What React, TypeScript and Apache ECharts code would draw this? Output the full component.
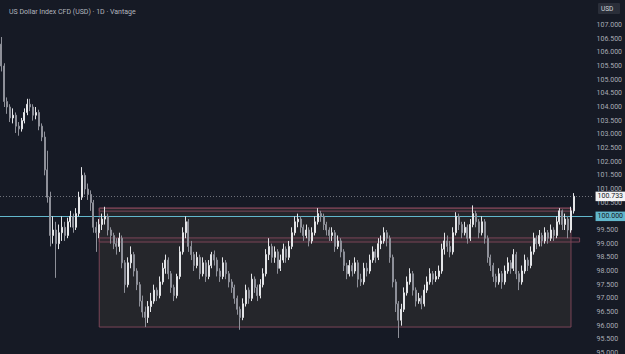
import React, { useEffect, useRef } from "react";
import * as echarts from "echarts";

const TITLE = "US Dollar Index CFD (USD) · 1D · Vantage";
const CURRENCY = "USD";

const opens = [
  106.3, 105.5, 104.2, 104.0, 103.6, 103.7, 103.3, 103.2, 103.5, 103.8,
  104.1, 104.0, 103.7, 103.8, 103.3, 102.9, 101.7, 100.7, 99.3, 99.5,
  99.0, 99.4, 99.6, 99.3, 99.8, 100.0, 99.6, 100.1, 100.7, 101.5,
  101.0, 100.8, 100.5, 99.6, 99.4, 99.7, 99.9, 100.0, 99.5, 99.3,
  99.0, 98.9, 99.2, 98.3, 97.5, 98.3, 98.6, 98.0, 97.5, 96.9,
  96.5, 96.3, 96.7, 96.9, 97.3, 97.1, 97.6, 98.1, 98.4, 97.9,
  97.4, 97.1, 97.8, 98.7, 99.4, 99.8, 98.9, 98.6, 98.2, 98.5,
  97.9, 98.3, 97.8, 98.2, 98.6, 98.4, 98.0, 97.8, 98.3, 97.9,
  97.6, 97.4, 97.0, 96.6, 96.3, 96.8, 97.3, 97.0, 97.7, 97.4,
  97.1, 97.5, 97.9, 98.6, 98.9, 98.5, 98.7, 98.1, 98.4, 98.8,
  98.5, 98.9, 99.4, 99.8, 99.9, 99.6, 99.3, 99.5, 99.1, 99.4,
  99.8, 100.1, 100.0, 99.7, 99.5, 99.3, 99.4, 98.9, 99.1, 98.7,
  98.2, 97.9, 98.2, 98.0, 98.3, 97.7, 97.6, 98.1, 98.0, 98.4,
  98.7, 98.5, 99.0, 99.1, 99.4, 99.2, 98.5, 97.6, 96.8, 96.2,
  96.6, 97.2, 97.6, 97.9, 97.3, 96.9, 97.0, 96.8, 97.3, 97.6,
  97.9, 97.7, 97.8, 98.0, 98.8, 99.1, 98.9, 98.7, 99.4, 100.0,
  99.7, 99.4, 99.6, 99.2, 99.7, 100.1, 99.8, 99.4, 99.8, 99.2,
  98.5, 98.2, 97.8, 97.6, 97.9, 97.6, 98.0, 98.3, 98.1, 98.6,
  97.9, 97.6, 98.0, 98.4, 98.2, 98.7, 99.2, 99.0, 99.3, 99.1,
  99.4, 99.2, 99.5, 99.3, 99.8, 100.2, 99.7, 99.9, 99.5, 100.2,
];

const closes = [
  105.5, 104.2, 104.0, 103.6, 103.7, 103.3, 103.2, 103.5, 103.8, 104.1,
  104.0, 103.7, 103.8, 103.3, 102.9, 101.7, 100.7, 99.3, 99.5, 99.0,
  99.4, 99.6, 99.3, 99.8, 100.0, 99.6, 100.1, 100.7, 101.5, 101.0,
  100.8, 100.5, 99.6, 99.4, 99.7, 99.9, 100.0, 99.5, 99.3, 99.0,
  98.9, 99.2, 98.3, 97.5, 98.3, 98.6, 98.0, 97.5, 96.9, 96.5,
  96.3, 96.7, 96.9, 97.3, 97.1, 97.6, 98.1, 98.4, 97.9, 97.4,
  97.1, 97.8, 98.7, 99.4, 99.8, 98.9, 98.6, 98.2, 98.5, 97.9,
  98.3, 97.8, 98.2, 98.6, 98.4, 98.0, 97.8, 98.3, 97.9, 97.6,
  97.4, 97.0, 96.6, 96.3, 96.8, 97.3, 97.0, 97.7, 97.4, 97.1,
  97.5, 97.9, 98.6, 98.9, 98.5, 98.7, 98.1, 98.4, 98.8, 98.5,
  98.9, 99.4, 99.8, 99.9, 99.6, 99.3, 99.5, 99.1, 99.4, 99.8,
  100.1, 100.0, 99.7, 99.5, 99.3, 99.4, 98.9, 99.1, 98.7, 98.2,
  97.9, 98.2, 98.0, 98.3, 97.7, 97.6, 98.1, 98.0, 98.4, 98.7,
  98.5, 99.0, 99.1, 99.4, 99.2, 98.5, 97.6, 96.8, 96.2, 96.6,
  97.2, 97.6, 97.9, 97.3, 96.9, 97.0, 96.8, 97.3, 97.6, 97.9,
  97.7, 97.8, 98.0, 98.8, 99.1, 98.9, 98.7, 99.4, 100.0, 99.7,
  99.4, 99.6, 99.2, 99.7, 100.1, 99.8, 99.4, 99.8, 99.2, 98.5,
  98.2, 97.8, 97.6, 97.9, 97.6, 98.0, 98.3, 98.1, 98.6, 97.9,
  97.6, 98.0, 98.4, 98.2, 98.7, 99.2, 99.0, 99.3, 99.1, 99.4,
  99.2, 99.5, 99.3, 99.8, 100.2, 99.7, 99.9, 99.5, 100.2, 100.733,
];

const lows = [
  105.3, 104.0, 103.75, 103.45, 103.4, 103.05, 102.95, 103.1, 103.4, 103.7,
  103.85, 103.5, 103.55, 103.15, 102.75, 101.5, 100.5, 98.9, 99.0, 97.75,
  98.8, 99.1, 99.1, 99.2, 99.6, 99.4, 99.5, 100.0, 100.6, 100.8,
  100.6, 100.2, 99.4, 98.7, 99.2, 99.5, 99.7, 99.3, 99.0, 98.8,
  98.6, 98.7, 98.1, 97.2, 97.4, 98.1, 97.8, 97.3, 96.7, 96.3,
  95.95, 96.1, 96.5, 96.8, 96.9, 97.0, 97.5, 97.9, 97.7, 97.2,
  96.9, 97.0, 97.7, 98.6, 99.2, 98.7, 98.4, 98.0, 98.1, 97.7,
  97.8, 97.6, 97.7, 98.1, 98.2, 97.8, 97.6, 97.7, 97.7, 97.4,
  97.2, 96.8, 96.4, 95.85, 96.2, 96.7, 96.8, 96.9, 97.2, 96.9,
  97.0, 97.4, 97.8, 98.4, 98.3, 98.3, 97.9, 98.0, 98.3, 98.3,
  98.4, 98.8, 99.3, 99.6, 99.4, 99.1, 99.2, 98.9, 99.0, 99.3,
  99.7, 99.8, 99.5, 99.3, 99.1, 99.1, 98.7, 98.8, 98.5, 98.0,
  97.7, 97.8, 97.8, 97.9, 97.4, 97.45, 97.5, 97.8, 97.9, 98.3,
  98.3, 98.4, 98.8, 99.0, 98.9, 98.3, 97.4, 96.5, 95.55, 96.0,
  96.5, 97.1, 97.5, 97.1, 96.7, 96.8, 96.6, 96.7, 97.2, 97.5,
  97.5, 97.6, 97.7, 97.9, 98.6, 98.7, 98.5, 98.6, 99.3, 99.5,
  99.2, 99.3, 99.0, 99.1, 99.6, 99.6, 99.2, 99.3, 99.0, 98.3,
  98.0, 97.6, 97.4, 97.5, 97.35, 97.5, 97.9, 97.9, 98.0, 97.7,
  97.3, 97.5, 97.9, 98.0, 98.1, 98.6, 98.8, 98.9, 98.9, 99.0,
  99.0, 99.1, 99.1, 99.2, 99.7, 99.5, 99.5, 99.2, 99.4, 100.1,
];

const highs = [
  106.56, 105.6, 104.35, 104.1, 103.95, 103.8, 103.45, 103.6, 103.95, 104.3,
  104.3, 104.1, 104.0, 103.9, 103.4, 103.1, 102.4, 100.9, 100.0, 99.8,
  99.7, 100.0, 99.8, 99.95, 100.2, 100.1, 100.3, 100.9, 101.8, 101.6,
  101.2, 100.95, 100.6, 99.8, 99.9, 100.1, 100.35, 100.1, 99.6, 99.4,
  99.2, 99.4, 99.3, 98.4, 98.5, 98.9, 98.7, 98.1, 97.6, 97.1,
  96.7, 96.9, 97.2, 97.5, 97.4, 97.8, 98.3, 98.6, 98.5, 98.0,
  97.5, 97.9, 98.9, 99.6, 100.0, 99.9, 99.1, 98.7, 98.7, 98.6,
  98.5, 98.4, 98.4, 98.7, 98.75, 98.5, 98.1, 98.5, 98.4, 98.0,
  97.7, 97.5, 97.1, 96.7, 97.0, 97.5, 97.4, 97.9, 97.8, 97.5,
  97.7, 98.1, 98.8, 99.2, 99.0, 98.9, 98.8, 98.6, 99.0, 98.9,
  99.1, 99.6, 100.0, 100.1, 100.0, 99.7, 99.7, 99.6, 99.6, 100.0,
  100.3, 100.2, 100.1, 99.8, 99.6, 99.6, 99.5, 99.3, 99.2, 98.8,
  98.3, 98.4, 98.3, 98.5, 98.4, 97.9, 98.3, 98.3, 98.6, 98.9,
  98.8, 99.2, 99.3, 99.6, 99.5, 99.3, 98.6, 97.7, 96.9, 96.8,
  97.4, 97.8, 98.1, 98.0, 97.4, 97.2, 97.1, 97.5, 97.8, 98.1,
  98.0, 98.0, 98.2, 99.0, 99.4, 99.3, 99.1, 99.6, 100.15, 100.1,
  99.8, 99.8, 99.7, 99.9, 100.4, 100.2, 99.9, 100.0, 99.9, 99.3,
  98.6, 98.3, 97.9, 98.1, 98.0, 98.2, 98.5, 98.4, 98.8, 98.7,
  98.0, 98.2, 98.6, 98.5, 98.9, 99.4, 99.3, 99.5, 99.4, 99.6,
  99.5, 99.7, 99.6, 100.0, 100.3, 100.25, 100.1, 100.0, 100.35, 100.85,
];

const EMPTY_SLOTS = 6;
const categories = Array.from({ length: opens.length + EMPTY_SLOTS }, (_, i) => `D${i + 1}`);

const LAST_PRICE = 100.733;
const KEY_LEVEL = 100.0;
const BOX_TOP = 100.3;
const BOX_BOTTOM = 95.95;
const UPPER_BAND = [100.19, 100.3];
const LOWER_BAND = [99.06, 99.21];
const BOX_START = 34;
const BOX_END = 198;
const LOWER_BAND_END = 201;

const Y_MIN = 94.5;
const Y_MAX = 107.5;
const Y_LABEL_MAX = 107;

const FONT = "Roboto, 'Noto Sans', sans-serif";
const BG = "#161a25";
const UP = "#e4e5e8";
const DOWN = "#8e9099";
const ZONE_BORDER = "#7b4557";
const CYAN = "#62b7cc";

export default function App() {
  const ref = useRef<HTMLDivElement>(null);

  useEffect(() => {
    if (!ref.current) return;
    const chart = echarts.init(ref.current, undefined, { renderer: "svg" });

    const candles = opens.map((o, i) => [o, closes[i], lows[i], highs[i]]);
    const zoneStyle = { color: "rgba(0,0,0,0)", borderColor: ZONE_BORDER, borderWidth: 1 };

    chart.setOption({
      animation: false,
      backgroundColor: BG,
      textStyle: { fontFamily: FONT },
      title: {
        text: TITLE,
        left: 4,
        top: 3,
        textStyle: { color: "#b2b5be", fontSize: 7, fontWeight: "normal", fontFamily: FONT },
      },
      grid: { left: 0, right: 28, top: 11.33, bottom: 13.33 },
      xAxis: {
        type: "category",
        data: categories,
        boundaryGap: true,
        axisLine: { show: false },
        axisTick: { show: false },
        axisLabel: { show: false },
        splitLine: { show: false },
      },
      yAxis: {
        type: "value",
        position: "right",
        min: Y_MIN,
        max: Y_MAX,
        interval: 0.5,
        axisLine: { show: false },
        axisTick: { show: false },
        splitLine: { show: false },
        axisLabel: {
          color: "#a9acb5",
          fontSize: 7,
          margin: 4,
          fontFamily: FONT,
          formatter: (v: number) => (v > Y_LABEL_MAX + 0.01 ? "" : v.toFixed(3)),
        },
      },
      series: [
        {
          type: "line",
          data: [],
          z: 1,
          silent: true,
          markArea: {
            silent: true,
            data: [
              [
                {
                  xAxis: categories[BOX_START],
                  yAxis: BOX_TOP,
                  itemStyle: { color: "#25262b", borderColor: ZONE_BORDER, borderWidth: 1 },
                },
                { xAxis: categories[BOX_END], yAxis: BOX_BOTTOM },
              ],
              [
                { xAxis: categories[BOX_START], yAxis: UPPER_BAND[1], itemStyle: zoneStyle },
                { xAxis: categories[BOX_END], yAxis: UPPER_BAND[0] },
              ],
              [
                { xAxis: categories[BOX_START], yAxis: LOWER_BAND[1], itemStyle: { ...zoneStyle, color: "rgba(123,69,87,0.12)" } },
                { xAxis: categories[LOWER_BAND_END], yAxis: LOWER_BAND[0] },
              ],
            ],
          },
        },
        {
          type: "candlestick",
          z: 5,
          data: candles,
          barWidth: 1.5,
          itemStyle: {
            color: UP,
            color0: DOWN,
            borderColor: UP,
            borderColor0: DOWN,
            borderWidth: 1,
          },
          markLine: {
            silent: true,
            symbol: ["none", "none"],
            data: [
              {
                yAxis: LAST_PRICE,
                lineStyle: { type: [1, 2], color: "#6f727b", width: 1 },
                label: {
                  show: true,
                  position: "end",
                  distance: 3,
                  formatter: LAST_PRICE.toFixed(3),
                  backgroundColor: "#f2f3f5",
                  color: "#131722",
                  fontSize: 7,
                  padding: [1.5, 2, 1, 2],
                  fontFamily: FONT,
                },
              },
              {
                yAxis: KEY_LEVEL,
                lineStyle: { type: "solid", color: CYAN, width: 1 },
                label: {
                  show: true,
                  position: "end",
                  distance: 3,
                  formatter: KEY_LEVEL.toFixed(3),
                  backgroundColor: CYAN,
                  color: "#131722",
                  fontSize: 7,
                  padding: [1.5, 2, 1, 2],
                  fontFamily: FONT,
                },
              },
            ],
          },
        },
      ],
      graphic: [
        {
          type: "rect",
          shape: { x: 598, y: 3, width: 22, height: 11, r: 1 },
          style: { fill: "#2a2e39" },
          z: 100,
        },
        {
          type: "text",
          x: 601,
          y: 5,
          style: { text: CURRENCY, fill: "#d1d4dc", fontSize: 6.5, fontFamily: FONT },
          z: 101,
        },
      ],
    });

    return () => chart.dispose();
  }, []);

  return (
    <div
      ref={ref}
      style={{ position: "fixed", left: 0, top: 0, width: 625, height: 380, background: BG }}
    />
  );
}
